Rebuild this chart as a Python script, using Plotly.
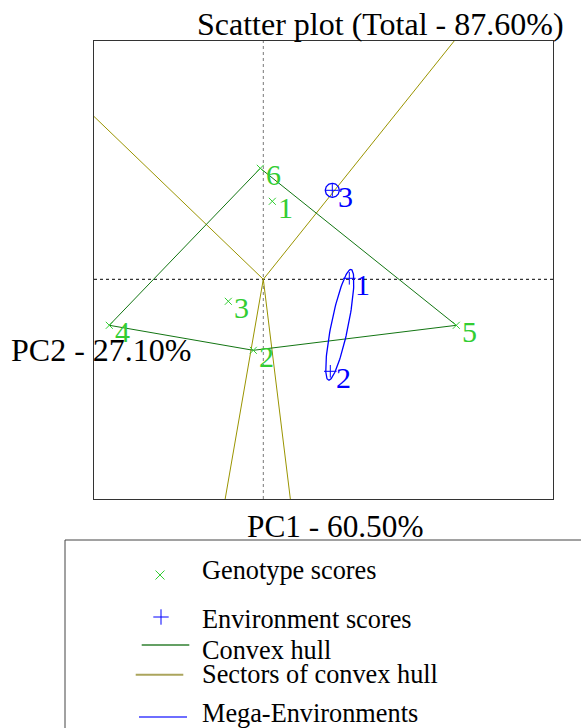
import numpy as np
import plotly.graph_objects as go

# ---------------- data ----------------
genotype_labels = ["1", "2", "3", "4", "5", "6"]
genotype_pc1 = [0.09, -0.10, -0.35, -1.54, 1.93, -0.03]
genotype_pc2 = [0.78, -0.71, -0.22, -0.46, -0.46, 1.11]

environment_labels = ["1", "2", "3"]
environment_pc1 = [0.86, 0.67, 0.69]
environment_pc2 = [0.01, -0.92, 0.89]

mega_environments = [[0, 1], [2]]   # indices of environments in each mega-environment

title_text = "Scatter plot (Total - 87.60%)"
xlabel_text = "PC1 - 60.50%"
ylabel_text = "PC2 - 27.10%"
legend_texts = ["Genotype scores", "Environment scores", "Convex hull",
                "Sectors of convex hull", "Mega-Environments"]

# ---------------- styles / layout ----------------
W, H = 581, 728
FONT = "Liberation Serif"
GREEN = "#32cd32"
HULL = "#127512"
SECTOR = "#9a9400"
BLUE = "#0000ff"

def px(x):
    return x / W

def py(y):
    return 1 - y / H

# ---------------- geometry from data ----------------
gpts = np.column_stack([genotype_pc1, genotype_pc2])
epts = np.column_stack([environment_pc1, environment_pc2])


def convex_hull(points):
    pts = sorted(map(tuple, points))

    def cross(o, a, b):
        return (a[0] - o[0]) * (b[1] - o[1]) - (a[1] - o[1]) * (b[0] - o[0])

    lower, upper = [], []
    for p in pts:
        while len(lower) >= 2 and cross(lower[-2], lower[-1], p) <= 0:
            lower.pop()
        lower.append(p)
    for p in reversed(pts):
        while len(upper) >= 2 and cross(upper[-2], upper[-1], p) <= 0:
            upper.pop()
        upper.append(p)
    return np.array(lower[:-1] + upper[:-1])


hull = convex_hull(gpts)
hull_closed = np.vstack([hull, hull[:1]])

sector_x, sector_y = [], []
for i in range(len(hull)):
    p = hull[i]
    q = hull[(i + 1) % len(hull)]
    d = q - p
    t = -np.dot(p, d) / np.dot(d, d)
    f = p + t * d
    direction = f / np.linalg.norm(f)
    end = direction * 20
    sector_x += [0, end[0], None]
    sector_y += [0, end[1], None]

ell_x, ell_y = [], []
tt = np.linspace(0, 2 * np.pi, 120)
for grp in mega_environments:
    P = epts[grp]
    if len(P) == 1:
        c = P[0]
        r = 0.07
        ell_x += list(c[0] + r * np.cos(tt)) + [None]
        ell_y += list(c[1] + r * np.sin(tt)) + [None]
    else:
        c = P.mean(axis=0)
        v = P[0] - P[-1]
        L = np.linalg.norm(v)
        u = v / L
        n = np.array([-u[1], u[0]])
        a = L / 2 + 0.09
        b = 0.085
        pts = c[None, :] + np.outer(a * np.cos(tt), u) + np.outer(b * np.sin(tt), n)
        ell_x += list(pts[:, 0]) + [None]
        ell_y += list(pts[:, 1]) + [None]

fig = go.Figure()

fig.add_trace(go.Scatter(x=sector_x, y=sector_y, mode="lines",
                         line=dict(color=SECTOR, width=1), hoverinfo="skip"))
fig.add_trace(go.Scatter(x=hull_closed[:, 0], y=hull_closed[:, 1], mode="lines",
                         line=dict(color=HULL, width=1), hoverinfo="skip"))
fig.add_trace(go.Scatter(x=ell_x, y=ell_y, mode="lines",
                         line=dict(color=BLUE, width=1.3), hoverinfo="skip"))
fig.add_trace(go.Scatter(x=genotype_pc1, y=genotype_pc2, mode="markers",
                         marker=dict(symbol="x-thin", size=7, line=dict(color=GREEN, width=1))))
fig.add_trace(go.Scatter(x=environment_pc1, y=environment_pc2, mode="markers",
                         marker=dict(symbol="cross-thin", size=9, line=dict(color=BLUE, width=1))))

# point labels
for lab, x, y in zip(genotype_labels, genotype_pc1, genotype_pc2):
    fig.add_annotation(x=x, y=y, xref="x", yref="y", text=lab, showarrow=False,
                       xanchor="left", yanchor="middle", xshift=4, yshift=-6,
                       font=dict(family=FONT, size=30, color=GREEN))
for lab, x, y in zip(environment_labels, environment_pc1, environment_pc2):
    fig.add_annotation(x=x, y=y, xref="x", yref="y", text=lab, showarrow=False,
                       xanchor="left", yanchor="middle", xshift=4, yshift=-6,
                       font=dict(family=FONT, size=30, color=BLUE))

# zero lines (dotted)
fig.add_shape(type="line", xref="x", yref="y domain", x0=0, x1=0, y0=0, y1=1,
              line=dict(color="#777777", width=1, dash="dot"), layer="below")
fig.add_shape(type="line", xref="x domain", yref="y", x0=0, x1=1, y0=0, y1=0,
              line=dict(color="#000000", width=1, dash="dot"), layer="below")

# title and axis labels
fig.add_annotation(x=px(380), y=py(24), xref="paper", yref="paper", text=title_text,
                   showarrow=False, xanchor="center", yanchor="middle",
                   font=dict(family=FONT, size=32, color="black"))
fig.add_annotation(x=px(335), y=py(526.7), xref="paper", yref="paper", text=xlabel_text,
                   showarrow=False, xanchor="center", yanchor="middle",
                   font=dict(family=FONT, size=31.3, color="black"))
fig.add_annotation(x=px(101), y=py(350.3), xref="paper", yref="paper", text=ylabel_text,
                   showarrow=False, xanchor="center", yanchor="middle",
                   font=dict(family=FONT, size=32, color="black"))

# ---------------- legend (drawn manually) ----------------
fig.add_shape(type="rect", xref="paper", yref="paper", x0=px(65), x1=px(600),
              y0=py(540), y1=py(760), line=dict(color="#444444", width=1))
legend_text_y = [570, 619.3, 650, 674.2, 713.8]
for txt, ty in zip(legend_texts, legend_text_y):
    fig.add_annotation(x=px(199.5), y=py(ty), xref="paper", yref="paper", text=txt,
                       showarrow=False, xanchor="left", yanchor="middle",
                       font=dict(family=FONT, size=26.3, color="black"))
legend_lines = [(141.7, 189.3, 645, "#64a064"),
                (135.7, 183.3, 674.7, "#aba55c"),
                (139, 187, 717, "#6e6eff")]
for x0, x1, yy, col in legend_lines:
    fig.add_shape(type="line", xref="paper", yref="paper", x0=px(x0), x1=px(x1),
                  y0=py(yy), y1=py(yy), line=dict(color=col, width=2))

fig.add_trace(go.Scatter(x=[160], y=[575], xaxis="x2", yaxis="y2", mode="markers",
                         marker=dict(symbol="x-thin", size=9, line=dict(color=GREEN, width=1))))
fig.add_trace(go.Scatter(x=[161], y=[617], xaxis="x2", yaxis="y2", mode="markers",
                         marker=dict(symbol="cross-thin", size=11, line=dict(color=BLUE, width=1))))

fig.update_layout(
    width=W, height=H,
    margin=dict(l=0, r=0, t=0, b=0),
    paper_bgcolor="white", plot_bgcolor="rgba(0,0,0,0)",
    showlegend=False,
    xaxis=dict(domain=[px(94), px(553)], range=[-1.693, 2.897],
               showgrid=False, zeroline=False, showticklabels=False, ticks="",
               showline=True, mirror=True, linecolor="#333333", linewidth=1),
    yaxis=dict(domain=[py(499), py(41)], range=[-2.197, 2.383],
               showgrid=False, zeroline=False, showticklabels=False, ticks="",
               showline=True, mirror=True, linecolor="#333333", linewidth=1),
    xaxis2=dict(domain=[0, 1], range=[0, W], anchor="y2", visible=False),
    yaxis2=dict(domain=[0, 1], range=[H, 0], anchor="x2", visible=False),
)

fig.write_html("out.html", config={"displayModeBar": False},
               post_script="document.body.style.margin='0';document.body.style.overflow='hidden';")
